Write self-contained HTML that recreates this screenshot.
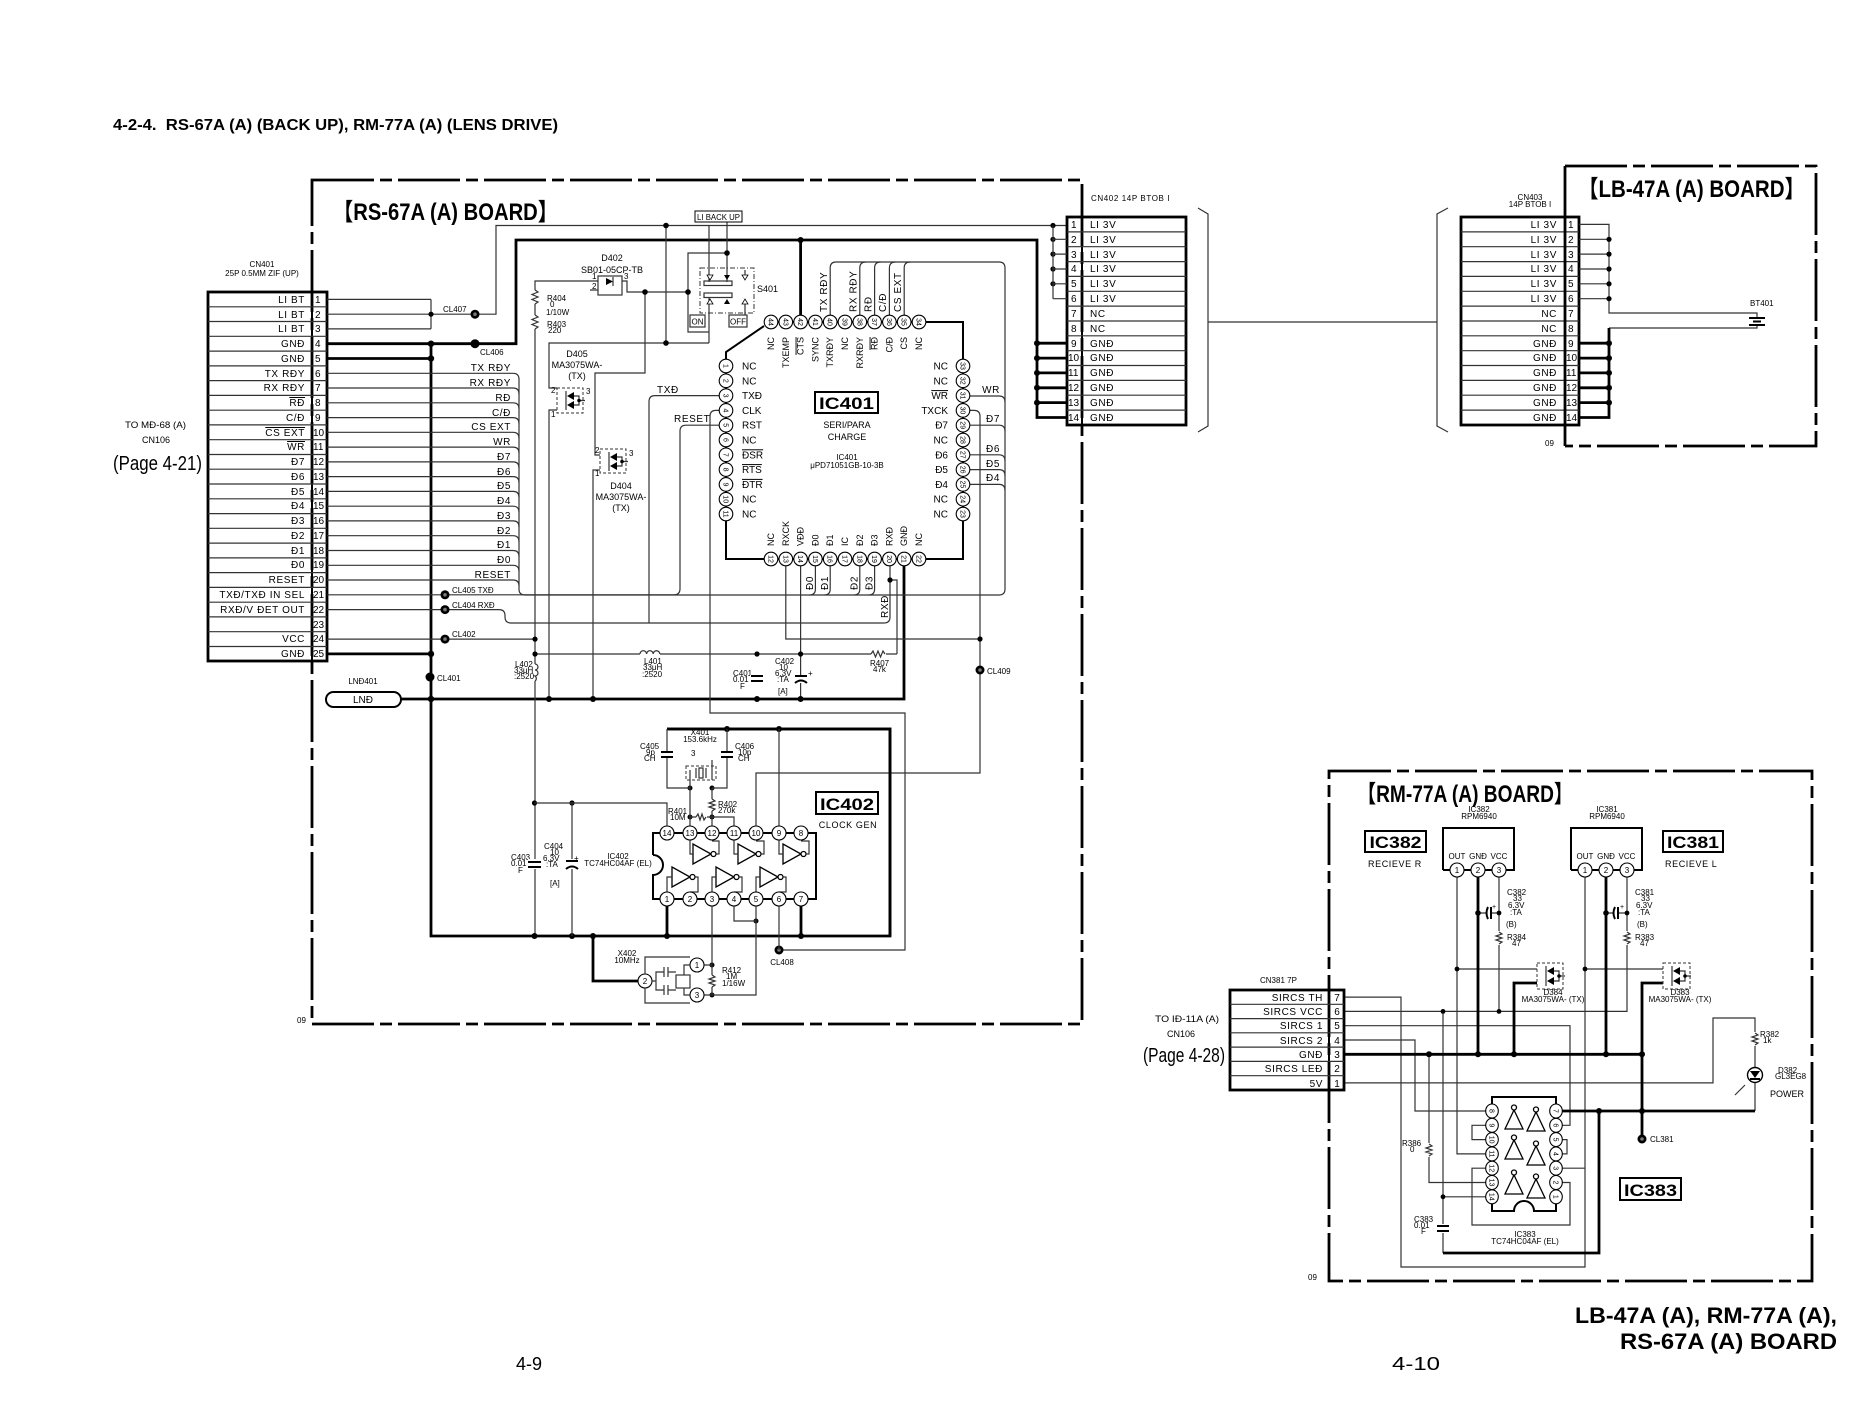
<!DOCTYPE html>
<html><head><meta charset="utf-8"><title>RS-67A / RM-77A / LB-47A schematic</title>
<style>
html,body{margin:0;padding:0;background:#fff;width:1865px;height:1402px;overflow:hidden}
svg{display:block}
.w{stroke:#333;stroke-width:1.2;fill:none}
.k{stroke:#000;stroke-width:2.8;fill:none}
.m{stroke:#000;stroke-width:2;fill:none}
.bd{stroke:#000;stroke-width:2.8;fill:none;stroke-dasharray:62 6 12 6}
text{font-family:"Liberation Sans","Noto Sans CJK JP",sans-serif;fill:#000}
.f7{font-size:7px}.f8{font-size:8px}.f9{font-size:9px}.f10{font-size:10px}
.e{text-anchor:end}.c{text-anchor:middle}
.ov{text-decoration:overline}
.pin{fill:#fff;stroke:#000;stroke-width:1.1}
.ls{letter-spacing:0.6px}
.dsh{stroke:#333;stroke-width:1;fill:none;stroke-dasharray:3 2}
</style></head><body>
<svg width="1865" height="1402" viewBox="0 0 1865 1402" xmlns="http://www.w3.org/2000/svg">
<rect width="1865" height="1402" fill="#fff"/>

<!-- Header -->
<text x="113" y="130" font-size="16" font-weight="bold" textLength="445" lengthAdjust="spacingAndGlyphs" xml:space="preserve">4-2-4.  RS-67A (A) (BACK UP), RM-77A (A) (LENS DRIVE)</text>

<!-- ================= RS-67A BOARD ================= -->
<path class="bd" d="M312,180 H1082 V1024 H312 Z"/>
<text x="333" y="220" font-size="24" font-weight="bold" textLength="225" lengthAdjust="spacingAndGlyphs">【RS-67A (A) BOARD】</text>
<text x="297" y="1023" class="f8">09</text>

<!-- CN401 -->
<text x="262" y="267" class="f8 c">CN401</text>
<text x="262" y="276" class="f8 c">25P 0.5MM ZIF (UP)</text>
<rect x="208" y="292" width="119" height="369" class="k"/>
<line x1="312" y1="292" x2="312" y2="661" class="m"/>
<path class="w" d="M208,306.8H327M208,321.5H327M208,336.3H327M208,351.1H327M208,365.9H327M208,380.6H327M208,395.4H327M208,410.2H327M208,424.9H327M208,439.7H327M208,454.5H327M208,469.2H327M208,484H327M208,498.8H327M208,513.6H327M208,528.3H327M208,543.1H327M208,557.9H327M208,572.6H327M208,587.4H327M208,602.2H327M208,616.9H327M208,631.7H327M208,646.5H327"/>
<g class="f10 ls">
<text x="305" y="303" class="e">LI BT</text>
<text x="305" y="318" class="e">LI BT</text>
<text x="305" y="332" class="e">LI BT</text>
<text x="305" y="347" class="e">GNĐ</text>
<text x="305" y="362" class="e">GNĐ</text>
<text x="305" y="377" class="e">TX RĐY</text>
<text x="305" y="391" class="e">RX RĐY</text>
<text x="305" y="406" class="e ov">RĐ</text>
<text x="305" y="421" class="e">C/Đ</text>
<text x="305" y="436" class="e ov">CS EXT</text>
<text x="305" y="450" class="e ov">WR</text>
<text x="305" y="465" class="e">Đ7</text>
<text x="305" y="480" class="e">Đ6</text>
<text x="305" y="495" class="e">Đ5</text>
<text x="305" y="509" class="e">Đ4</text>
<text x="305" y="524" class="e">Đ3</text>
<text x="305" y="539" class="e">Đ2</text>
<text x="305" y="554" class="e">Đ1</text>
<text x="305" y="568" class="e">Đ0</text>
<text x="305" y="583" class="e">RESET</text>
<text x="305" y="598" class="e">TXĐ/TXĐ IN SEL</text>
<text x="305" y="613" class="e">RXĐ/V ĐET OUT</text>
<text x="305" y="642" class="e">VCC</text>
<text x="305" y="657" class="e">GNĐ</text>
</g>
<g class="f10">
<text x="315" y="303">1</text><text x="315" y="318">2</text><text x="315" y="332">3</text><text x="315" y="347">4</text><text x="315" y="362">5</text><text x="315" y="377">6</text><text x="315" y="391">7</text><text x="315" y="406">8</text><text x="315" y="421">9</text><text x="313" y="436">10</text><text x="313" y="450">11</text><text x="313" y="465">12</text><text x="313" y="480">13</text><text x="313" y="495">14</text><text x="313" y="509">15</text><text x="313" y="524">16</text><text x="313" y="539">17</text><text x="313" y="554">18</text><text x="313" y="568">19</text><text x="313" y="583">20</text><text x="313" y="598">21</text><text x="313" y="613">22</text><text x="313" y="628">23</text><text x="313" y="642">24</text><text x="313" y="657">25</text>
</g>
<text x="125" y="428" class="f9" textLength="61" lengthAdjust="spacingAndGlyphs">TO MĐ-68 (A)</text>
<text x="142" y="443" class="f9">CN106</text>
<text x="113" y="470" font-size="20" textLength="89" lengthAdjust="spacingAndGlyphs">(Page 4-21)</text>

<!-- CN401 wiring -->
<path class="w" d="M327,299.4H431M327,314.2H475M327,328.9H431M431,299.4V328.9M475,314.2H496V225.5H1067"/>
<path class="k" d="M327,343.7H516V240H1037V417.5H1067M327,358.5H431M431,343.7V936H890V729H667M327,653.9H431M1037,343.2H1067M1037,358.1H1067M1037,372.9H1067M1037,387.8H1067M1037,402.6H1067"/>
<path class="k" d="M401,699H904V566M800.6,315V240"/>
<!-- bus lines rows 6-20 -->
<path class="w" d="M327,373.3H513Q519,373.3 519,379.3M327,388H513Q519,388 519,394M327,402.8H513Q519,402.8 519,408.8M327,417.6H513Q519,417.6 519,423.6M327,432.3H513Q519,432.3 519,438.3M327,447.1H513Q519,447.1 519,453.1M327,461.9H513Q519,461.9 519,467.9M327,476.6H513Q519,476.6 519,482.6M327,491.4H513Q519,491.4 519,497.4M327,506.2H513Q519,506.2 519,512.2M327,520.9H513Q519,520.9 519,526.9M327,535.7H513Q519,535.7 519,541.7M327,550.5H513Q519,550.5 519,556.5M327,565.3H513Q519,565.3 519,571.3M327,580H513Q519,580 519,586"/>
<path class="w" d="M519,379V589Q519,595 525,595H999Q1005,595 1005,589V268Q1005,262 999,262H836Q830.2,262 830.2,268V315"/>
<path class="w" d="M859.8,315V268Q859.8,262 865.8,262M874.6,315V268Q874.6,262 880.6,262M889.4,315V268Q889.4,262 895.4,262M904.2,315V268Q904.2,262 910.2,262"/>
<path class="w" d="M970,396H999Q1005,396 1005,402M970,425.2H999Q1005,425.2 1005,431.2M970,454.8H999Q1005,454.8 1005,460.8M970,469.6H999Q1005,469.6 1005,475.6M970,484.4H999Q1005,484.4 1005,490.4"/>
<path class="w" d="M815.4,566V589Q815.4,595 809.4,595M830.2,566V589Q830.2,595 824.2,595M859.8,566V589Q859.8,595 853.8,595M874.6,566V589Q874.6,595 868.6,595"/>
<!-- rows 21,22,24 -->
<path class="w" d="M327,594.8H674Q680,594.8 680,588.8V431.2Q680,425.2 686,425.2H719"/>
<path class="w" d="M327,609.6H499Q505,609.6 505,615.6V617Q505,623 511,623H884Q890,623 890,617V566M890,580H897V654M649,623V401.6Q649,395.6 655,395.6H719"/>
<path class="w" d="M719,410.4H716Q710,410.4 710,416.4V713H905V950H779"/>
<path class="w" d="M970,410.4H974Q980,410.4 980,416.4V773H756V826M785.8,566V639H980M800.6,566V699M327,639.1H535"/>
<path class="w" d="M598,281H535V936M535,654H897M665,343H549V388H557M557,410H549V699M600,455H595V373H645V292M600,470H593V699M622,281H627V292H688M666,225.5V343H709M709,225.5V282M709,298V343M727,222V282M727,253H688V332H709M745,300V315"/>
<!-- small labels rows 21/22/24 -->
<text x="452" y="593" class="f8">CL405 TXĐ</text>
<text x="452" y="608" class="f8">CL404 RXĐ</text>
<text x="452" y="637" class="f8">CL402</text>
<text x="443" y="312" class="f8">CL407</text>
<text x="480" y="355" class="f8">CL406</text>
<text x="437" y="681" class="f8">CL401</text>
<g class="f10 ls">
<text x="511" y="371" class="e">TX RĐY</text>
<text x="511" y="386" class="e">RX RĐY</text>
<text x="511" y="401" class="e">RĐ</text>
<text x="511" y="416" class="e">C/Đ</text>
<text x="511" y="430" class="e">CS EXT</text>
<text x="511" y="445" class="e">WR</text>
<text x="511" y="460" class="e">Đ7</text>
<text x="511" y="475" class="e">Đ6</text>
<text x="511" y="489" class="e">Đ5</text>
<text x="511" y="504" class="e">Đ4</text>
<text x="511" y="519" class="e">Đ3</text>
<text x="511" y="534" class="e">Đ2</text>
<text x="511" y="548" class="e">Đ1</text>
<text x="511" y="563" class="e">Đ0</text>
<text x="511" y="578" class="e">RESET</text>
<text x="657" y="393">TXĐ</text>
<text x="674" y="422">RESET</text>
<text x="1000" y="393" class="e">WR</text>
<text x="1000" y="422" class="e">Đ7</text>
<text x="1000" y="452" class="e">Đ6</text>
<text x="1000" y="467" class="e">Đ5</text>
<text x="1000" y="481" class="e">Đ4</text>
</g>
<g class="f10 ls">
<text transform="translate(827,312) rotate(-90)">TX RĐY</text>
<text transform="translate(856.6,312) rotate(-90)">RX RĐY</text>
<text transform="translate(871.4,312) rotate(-90)">RĐ</text>
<text transform="translate(886.2,312) rotate(-90)">C/Đ</text>
<text transform="translate(901,312) rotate(-90)">CS EXT</text>
<text transform="translate(813,590) rotate(-90)">Đ0</text>
<text transform="translate(828,590) rotate(-90)">Đ1</text>
<text transform="translate(857.6,590) rotate(-90)">Đ2</text>
<text transform="translate(872.4,590) rotate(-90)">Đ3</text>
<text transform="translate(888,618) rotate(-90)">RXĐ</text>
</g>

<!-- LND -->
<rect x="326" y="692" width="75" height="15" rx="7.5" class="m"/>
<text x="363" y="703" class="f10 c">LNĐ</text>
<text x="363" y="684" class="f8 c">LNĐ401</text>

<!-- CL test points -->
<g>
<circle cx="475" cy="314.2" r="4.5"/><circle cx="475" cy="314.2" r="1.8" fill="#777"/>
<circle cx="475" cy="343.7" r="4.5"/>
<circle cx="445" cy="594.8" r="4.5"/><circle cx="445" cy="594.8" r="1.8" fill="#777"/>
<circle cx="445" cy="609.6" r="4.5"/><circle cx="445" cy="609.6" r="1.8" fill="#777"/>
<circle cx="445" cy="639.1" r="4.5"/><circle cx="445" cy="639.1" r="1.8" fill="#777"/>
<circle cx="430" cy="677" r="4.5"/>
<circle cx="980" cy="670" r="4.5"/><circle cx="980" cy="670" r="1.8" fill="#777"/>
<circle cx="779" cy="950" r="4.5"/><circle cx="779" cy="950" r="1.8" fill="#777"/>
</g>
<!-- junction dots -->
<g>
<circle cx="431" cy="314.2" r="2.6"/><circle cx="431" cy="343.7" r="3.2"/><circle cx="431" cy="358.5" r="3.2"/><circle cx="431" cy="653.9" r="3.2"/><circle cx="431" cy="699" r="3.2"/>
<circle cx="535" cy="639.1" r="2.6"/><circle cx="535" cy="654" r="2.6"/><circle cx="549" cy="699" r="3"/><circle cx="593" cy="699" r="3"/>
<circle cx="757" cy="654" r="2.6"/><circle cx="800.6" cy="654" r="2.6"/><circle cx="757" cy="699" r="3"/><circle cx="800.6" cy="699" r="3"/>
<circle cx="890" cy="580" r="2.6"/><circle cx="980" cy="639" r="2.6"/>
<circle cx="666" cy="225.5" r="2.8"/><circle cx="666" cy="343" r="2.8"/><circle cx="800.6" cy="240" r="3"/>
<circle cx="645" cy="292" r="2.8"/><circle cx="688" cy="292" r="2.8"/><circle cx="727" cy="253" r="2.8"/>
<circle cx="1053" cy="225.5" r="2.6"/><circle cx="1053" cy="239.3" r="2.6"/><circle cx="1053" cy="254.1" r="2.6"/><circle cx="1053" cy="269" r="2.6"/><circle cx="1053" cy="283.8" r="2.6"/>
<circle cx="1037" cy="343.2" r="3"/><circle cx="1037" cy="358.1" r="3"/><circle cx="1037" cy="372.9" r="3"/><circle cx="1037" cy="387.8" r="3"/><circle cx="1037" cy="402.6" r="3"/>
<circle cx="534.5" cy="803" r="2.6"/><circle cx="572" cy="803" r="2.6"/><circle cx="534.5" cy="936" r="3"/><circle cx="572" cy="936" r="3"/><circle cx="593" cy="936" r="3"/><circle cx="667" cy="936" r="3"/><circle cx="801" cy="936" r="3"/>
<circle cx="727" cy="729" r="3"/><circle cx="779" cy="729" r="3"/>
<circle cx="690" cy="788" r="2.5"/><circle cx="712" cy="788" r="2.5"/><circle cx="690" cy="817" r="2.5"/><circle cx="712" cy="817" r="2.5"/>
<circle cx="712" cy="965" r="2.5"/><circle cx="712" cy="995" r="2.5"/><circle cx="756" cy="921" r="2.5"/>
</g>

<!-- R404 / R403 / L402 / L401 / R407 -->
<rect x="530" y="290" width="10" height="14" fill="#fff"/><rect x="530" y="315" width="10" height="14" fill="#fff"/>
<path class="w" d="M535,290l3,2l-6,2.5l6,2.5l-6,2.5l6,2.5l-3,2M535,315l3,2l-6,2.5l6,2.5l-6,2.5l6,2.5l-3,2"/>
<rect x="530" y="664" width="10" height="17" fill="#fff"/>
<path class="w" d="M535,664a3,3 0 0 1 0,6a3,3 0 0 1 0,6a3,3 0 0 1 0,5"/>
<rect x="640" y="649" width="20" height="8" fill="#fff"/>
<path class="w" d="M640,654a3.3,3.3 0 0 1 6.6,0a3.3,3.3 0 0 1 6.6,0a3.3,3.3 0 0 1 6.6,0"/>
<rect x="871" y="649" width="15" height="9" fill="#fff"/>
<path class="w" d="M871,654l2,-3l2.5,6l2.5,-6l2.5,6l2.5,-6l2,3"/>
<g class="f8">
<text x="547" y="301">R404</text><text x="550" y="307">0</text><text x="546" y="315">1/10W</text>
<text x="547" y="327">R403</text><text x="548" y="333">220</text>
<text x="515" y="667">L402</text><text x="514" y="673">33μH</text><text x="514" y="679">:2520</text>
<text x="644" y="664">L401</text><text x="643" y="670">33μH</text><text x="642" y="677">:2520</text>
<text x="870" y="666">R407</text><text x="873" y="672">47k</text>
<text x="987" y="674">CL409</text>
<text x="733" y="676">C401</text><text x="733" y="682">0.01</text><text x="740" y="689">F</text>
<text x="775" y="664">C402</text><text x="779" y="670">10</text><text x="775" y="676">6.3V</text><text x="777" y="682">:TA</text><text x="778" y="694">[A]</text>
</g>
<!-- C401 C402 -->
<rect x="750" y="675" width="14" height="8" fill="#fff"/><rect x="794" y="675" width="14" height="8" fill="#fff"/>
<path class="m" d="M751,676H763M751,681H763M795,676H807"/>
<path class="m" d="M795,683Q801,678 807,683"/>
<text x="808" y="676" class="f8">+</text>

<!-- D402 -->
<rect x="598" y="276" width="24" height="19" class="w"/>
<polygon points="606,278 606,285 613,281.5"/>
<path class="w" d="M613,277V286M598,290H590"/>
<text x="612" y="261" class="f9 c">D402</text>
<text x="612" y="273" class="f9 c">SB01-05CP-TB</text>
<text x="592" y="279" class="f8">1</text><text x="592" y="289" class="f8">2</text><text x="624" y="279" class="f8">3</text>

<!-- D405 / D404 -->
<rect x="557" y="388" width="26" height="25" class="dsh"/>
<polygon points="574,392 574,400 567,396"/><polygon points="574,401 574,409 567,405"/>
<path class="w" d="M566,391V401M566,400V410M574,396H579V405H574M579,400.5H585"/><circle cx="579" cy="400.5" r="1.8"/>
<text x="551" y="393" class="f8">2</text><text x="551" y="417" class="f8">1</text><text x="586" y="394" class="f8">3</text>
<text x="577" y="357" class="f9 c">D405</text><text x="577" y="368" class="f9 c">MA3075WA-</text><text x="577" y="379" class="f9 c">(TX)</text>
<rect x="600" y="449" width="26" height="24" class="dsh"/>
<polygon points="617,453 617,461 610,457"/><polygon points="617,462 617,470 610,466"/>
<path class="w" d="M609,452V462M609,461V471M617,457H622V466H617M622,461.5H628"/><circle cx="622" cy="461.5" r="1.8"/>
<text x="595" y="453" class="f8">2</text><text x="595" y="476" class="f8">1</text><text x="629" y="456" class="f8">3</text>
<text x="621" y="489" class="f9 c">D404</text><text x="621" y="500" class="f9 c">MA3075WA-</text><text x="621" y="511" class="f9 c">(TX)</text>

<!-- S401 -->
<rect x="695" y="211" width="47" height="11" fill="#fff" stroke="#000" stroke-width="1"/>
<text x="718.5" y="220" class="f8 c" textLength="43" lengthAdjust="spacingAndGlyphs">LI BACK UP</text>
<rect x="700" y="268" width="54" height="45" fill="none" stroke="#333" stroke-width="1" stroke-dasharray="5 2 1 2"/>
<rect x="704" y="281" width="28" height="4.5" class="w" fill="#fff"/>
<rect x="704" y="293" width="28" height="4.5" class="w" fill="#fff"/>
<polygon points="707,275 713,275 710,280" fill="#fff" stroke="#000" stroke-width="0.8"/>
<polygon points="724,275 730,275 727,280"/>
<polygon points="742,275 748,275 745,280" fill="#fff" stroke="#000" stroke-width="0.8"/>
<polygon points="707,304 713,304 710,299" fill="#fff" stroke="#000" stroke-width="0.8"/>
<polygon points="724,304 730,304 727,299"/>
<polygon points="742,304 748,304 745,299" fill="#fff" stroke="#000" stroke-width="0.8"/>
<path class="w" d="M745,270V275"/>
<text x="757" y="292" class="f9">S401</text>
<rect x="690" y="315" width="15" height="12" class="w"/><text x="697.5" y="324.5" class="f8 c">ON</text>
<rect x="729" y="315" width="18" height="12" class="w"/><text x="738" y="324.5" class="f8 c">OFF</text>

<!-- IC401 -->
<path class="m" d="M764,326L726,352V559H963V322H778"/>
<g class="pin">
<circle cx="771" cy="322" r="6.8"/><circle cx="785.8" cy="322" r="6.8"/><circle cx="800.6" cy="322" r="6.8"/><circle cx="815.4" cy="322" r="6.8"/><circle cx="830.2" cy="322" r="6.8"/><circle cx="845" cy="322" r="6.8"/><circle cx="859.8" cy="322" r="6.8"/><circle cx="874.6" cy="322" r="6.8"/><circle cx="889.4" cy="322" r="6.8"/><circle cx="904.2" cy="322" r="6.8"/><circle cx="919" cy="322" r="6.8"/>
<circle cx="771" cy="559" r="6.8"/><circle cx="785.8" cy="559" r="6.8"/><circle cx="800.6" cy="559" r="6.8"/><circle cx="815.4" cy="559" r="6.8"/><circle cx="830.2" cy="559" r="6.8"/><circle cx="845" cy="559" r="6.8"/><circle cx="859.8" cy="559" r="6.8"/><circle cx="874.6" cy="559" r="6.8"/><circle cx="889.4" cy="559" r="6.8"/><circle cx="904.2" cy="559" r="6.8"/><circle cx="919" cy="559" r="6.8"/>
<circle cx="726" cy="366" r="6.8"/><circle cx="726" cy="380.8" r="6.8"/><circle cx="726" cy="395.6" r="6.8"/><circle cx="726" cy="410.4" r="6.8"/><circle cx="726" cy="425.2" r="6.8"/><circle cx="726" cy="440" r="6.8"/><circle cx="726" cy="454.8" r="6.8"/><circle cx="726" cy="469.6" r="6.8"/><circle cx="726" cy="484.4" r="6.8"/><circle cx="726" cy="499.2" r="6.8"/><circle cx="726" cy="514" r="6.8"/>
<circle cx="963" cy="366" r="6.8"/><circle cx="963" cy="380.8" r="6.8"/><circle cx="963" cy="395.6" r="6.8"/><circle cx="963" cy="410.4" r="6.8"/><circle cx="963" cy="425.2" r="6.8"/><circle cx="963" cy="440" r="6.8"/><circle cx="963" cy="454.8" r="6.8"/><circle cx="963" cy="469.6" r="6.8"/><circle cx="963" cy="484.4" r="6.8"/><circle cx="963" cy="499.2" r="6.8"/><circle cx="963" cy="514" r="6.8"/>
</g>
<g class="f7 c">
<text transform="translate(771,322) rotate(90)" y="2.5">44</text><text transform="translate(785.8,322) rotate(90)" y="2.5">43</text><text transform="translate(800.6,322) rotate(90)" y="2.5">42</text><text transform="translate(815.4,322) rotate(90)" y="2.5">41</text><text transform="translate(830.2,322) rotate(90)" y="2.5">40</text><text transform="translate(845,322) rotate(90)" y="2.5">39</text><text transform="translate(859.8,322) rotate(90)" y="2.5">38</text><text transform="translate(874.6,322) rotate(90)" y="2.5">37</text><text transform="translate(889.4,322) rotate(90)" y="2.5">36</text><text transform="translate(904.2,322) rotate(90)" y="2.5">35</text><text transform="translate(919,322) rotate(90)" y="2.5">34</text>
<text transform="translate(771,559) rotate(90)" y="2.5">12</text><text transform="translate(785.8,559) rotate(90)" y="2.5">13</text><text transform="translate(800.6,559) rotate(90)" y="2.5">14</text><text transform="translate(815.4,559) rotate(90)" y="2.5">15</text><text transform="translate(830.2,559) rotate(90)" y="2.5">16</text><text transform="translate(845,559) rotate(90)" y="2.5">17</text><text transform="translate(859.8,559) rotate(90)" y="2.5">18</text><text transform="translate(874.6,559) rotate(90)" y="2.5">19</text><text transform="translate(889.4,559) rotate(90)" y="2.5">20</text><text transform="translate(904.2,559) rotate(90)" y="2.5">21</text><text transform="translate(919,559) rotate(90)" y="2.5">22</text>
<text transform="translate(726,366) rotate(90)" y="2.5">1</text><text transform="translate(726,380.8) rotate(90)" y="2.5">2</text><text transform="translate(726,395.6) rotate(90)" y="2.5">3</text><text transform="translate(726,410.4) rotate(90)" y="2.5">4</text><text transform="translate(726,425.2) rotate(90)" y="2.5">5</text><text transform="translate(726,440) rotate(90)" y="2.5">6</text><text transform="translate(726,454.8) rotate(90)" y="2.5">7</text><text transform="translate(726,469.6) rotate(90)" y="2.5">8</text><text transform="translate(726,484.4) rotate(90)" y="2.5">9</text><text transform="translate(726,499.2) rotate(90)" y="2.5">10</text><text transform="translate(726,514) rotate(90)" y="2.5">11</text>
<text transform="translate(963,366) rotate(90)" y="2.5">33</text><text transform="translate(963,380.8) rotate(90)" y="2.5">32</text><text transform="translate(963,395.6) rotate(90)" y="2.5">31</text><text transform="translate(963,410.4) rotate(90)" y="2.5">30</text><text transform="translate(963,425.2) rotate(90)" y="2.5">29</text><text transform="translate(963,440) rotate(90)" y="2.5">28</text><text transform="translate(963,454.8) rotate(90)" y="2.5">27</text><text transform="translate(963,469.6) rotate(90)" y="2.5">26</text><text transform="translate(963,484.4) rotate(90)" y="2.5">25</text><text transform="translate(963,499.2) rotate(90)" y="2.5">24</text><text transform="translate(963,514) rotate(90)" y="2.5">23</text>
</g>
<g class="f9">
<text transform="translate(771,337) rotate(-90)" y="3" class="e">NC</text>
<text transform="translate(785.8,337) rotate(-90)" y="3" class="e">TXEMP</text>
<text transform="translate(800.6,337) rotate(-90)" y="3" class="e ov">CTS</text>
<text transform="translate(815.4,337) rotate(-90)" y="3" class="e">SYNC</text>
<text transform="translate(830.2,337) rotate(-90)" y="3" class="e">TXRĐY</text>
<text transform="translate(845,337) rotate(-90)" y="3" class="e">NC</text>
<text transform="translate(859.8,337) rotate(-90)" y="3" class="e">RXRĐY</text>
<text transform="translate(874.6,337) rotate(-90)" y="3" class="e ov">RĐ</text>
<text transform="translate(889.4,337) rotate(-90)" y="3" class="e">C/Đ</text>
<text transform="translate(904.2,337) rotate(-90)" y="3" class="e">CS</text>
<text transform="translate(919,337) rotate(-90)" y="3" class="e">NC</text>
<text transform="translate(771,546) rotate(-90)" y="3">NC</text>
<text transform="translate(785.8,546) rotate(-90)" y="3">RXCK</text>
<text transform="translate(800.6,546) rotate(-90)" y="3">VĐĐ</text>
<text transform="translate(815.4,546) rotate(-90)" y="3">Đ0</text>
<text transform="translate(830.2,546) rotate(-90)" y="3">Đ1</text>
<text transform="translate(845,546) rotate(-90)" y="3">IC</text>
<text transform="translate(859.8,546) rotate(-90)" y="3">Đ2</text>
<text transform="translate(874.6,546) rotate(-90)" y="3">Đ3</text>
<text transform="translate(889.4,546) rotate(-90)" y="3">RXĐ</text>
<text transform="translate(904.2,546) rotate(-90)" y="3">GNĐ</text>
<text transform="translate(919,546) rotate(-90)" y="3">NC</text>
</g>
<g class="f10">
<text x="742" y="369.5">NC</text><text x="742" y="384.3">NC</text><text x="742" y="399.1">TXĐ</text><text x="742" y="413.9">CLK</text><text x="742" y="428.7">RST</text><text x="742" y="443.5">NC</text><text x="742" y="458.3" class="ov">ĐSR</text><text x="742" y="473.1" class="ov">RTS</text><text x="742" y="487.9" class="ov">ĐTR</text><text x="742" y="502.7">NC</text><text x="742" y="517.5">NC</text>
<text x="948" y="369.5" class="e">NC</text><text x="948" y="384.3" class="e">NC</text><text x="948" y="399.1" class="e ov">WR</text><text x="948" y="413.9" class="e">TXCK</text><text x="948" y="428.7" class="e">Đ7</text><text x="948" y="443.5" class="e">NC</text><text x="948" y="458.3" class="e">Đ6</text><text x="948" y="473.1" class="e">Đ5</text><text x="948" y="487.9" class="e">Đ4</text><text x="948" y="502.7" class="e">NC</text><text x="948" y="517.5" class="e">NC</text>
</g>
<rect x="815" y="392" width="63" height="21" class="m"/>
<text x="846.5" y="409" font-size="17" font-weight="bold" class="c" textLength="55" lengthAdjust="spacingAndGlyphs">IC401</text>
<text x="847" y="428" class="f9 c">SERI/PARA</text>
<text x="847" y="440" class="f9 c">CHARGE</text>
<text x="847" y="460" class="f8 c">IC401</text>
<text x="847" y="468" class="f8 c">μPD71051GB-10-3B</text>

<!-- IC402 section -->
<path class="k" d="M667,729H890V936"/>
<path class="w" d="M667,729V788H690M727,729V788H712M779,729V826M690,788V826M712,788V826M690,817H712M712,817H734V826"/>
<rect x="661" y="751" width="12" height="7" fill="#fff"/><rect x="721" y="751" width="12" height="7" fill="#fff"/>
<path class="m" d="M661,752H673M661,757H673M721,752H733M721,757H733"/>
<rect x="686" y="766" width="30" height="14" class="dsh" fill="#fff"/>
<path class="w" d="M696,768V778M706,768V778M699,768H703V778H699Z M690,780V788M712,760V780M690,770V780"/>
<rect x="696" y="813" width="11" height="8" fill="#fff"/>
<path class="w" d="M696,817l2,-3l2,6l2,-6l2,6l2,-3"/>
<rect x="708" y="799" width="8" height="12" fill="#fff"/>
<path class="w" d="M712,799l3,2l-6,2l6,2l-6,2l6,2l-3,2"/>
<g class="f8">
<text x="700" y="735" class="c">X401</text><text x="700" y="742" class="c">153.6kHz</text>
<text x="691" y="756">3</text>
<text x="640" y="749">C405</text><text x="646" y="755">9p</text><text x="644" y="761">CH</text>
<text x="735" y="749">C406</text><text x="738" y="755">10p</text><text x="738" y="761">CH</text>
<text x="668" y="814">R401</text><text x="670" y="820">10M</text>
<text x="718" y="807">R402</text><text x="718" y="813">270k</text>
</g>
<!-- IC402 body -->
<path class="m" d="M653,855V833H816V899H653V875A10,10 0 0 0 653,855"/>
<g fill="#fff" stroke="#000" stroke-width="1.3">
<polygon points="693,844 693,864 711,854"/><circle cx="713.5" cy="854" r="2.5"/>
<polygon points="738,844 738,864 756,854"/><circle cx="758.5" cy="854" r="2.5"/>
<polygon points="783,844 783,864 801,854"/><circle cx="803.5" cy="854" r="2.5"/>
<polygon points="672,867 672,887 690,877"/><circle cx="692.5" cy="877" r="2.5"/>
<polygon points="716,867 716,887 734,877"/><circle cx="736.5" cy="877" r="2.5"/>
<polygon points="760,867 760,887 778,877"/><circle cx="780.5" cy="877" r="2.5"/>
</g>
<path class="w" d="M690,840V854H693M716,854H719V841H712M734,840V854H738M761,854H764V841H756M779,840V854H783M806,854H809V841H801M667,892V877H672M695,877H698V892H690M712,892V877H716M739,877H742V892H734M756,892V877H760M783,877H786V892H779"/>
<path class="w" d="M712,906V965M703,965H712V995H703M712,995H756V906M756,921H734V906M779,906V950M667,826V803H534.5M572,803V936"/>
<path class="k" d="M667,906V936M801,906V936M593,936V981H638"/>
<g class="pin">
<circle cx="667" cy="833" r="7"/><circle cx="690" cy="833" r="7"/><circle cx="712" cy="833" r="7"/><circle cx="734" cy="833" r="7"/><circle cx="756" cy="833" r="7"/><circle cx="779" cy="833" r="7"/><circle cx="801" cy="833" r="7"/>
<circle cx="667" cy="899" r="7"/><circle cx="690" cy="899" r="7"/><circle cx="712" cy="899" r="7"/><circle cx="734" cy="899" r="7"/><circle cx="756" cy="899" r="7"/><circle cx="779" cy="899" r="7"/><circle cx="801" cy="899" r="7"/>
<circle cx="697" cy="965" r="7"/><circle cx="645" cy="981" r="7"/><circle cx="697" cy="995" r="7"/>
</g>
<g class="f8 c">
<text x="667" y="836">14</text><text x="690" y="836">13</text><text x="712" y="836">12</text><text x="734" y="836">11</text><text x="756" y="836">10</text><text x="779" y="836">9</text><text x="801" y="836">8</text>
<text x="667" y="902">1</text><text x="690" y="902">2</text><text x="712" y="902">3</text><text x="734" y="902">4</text><text x="756" y="902">5</text><text x="779" y="902">6</text><text x="801" y="902">7</text>
<text x="697" y="968">1</text><text x="645" y="984">2</text><text x="697" y="998">3</text>
</g>
<!-- X402 -->
<path class="w" d="M645,974V957H690M645,988V1003H690M652,981H656V972H664M668,972H676M656,981V990H664M668,990H676M664,967V977M668,967V977M664,985V995M668,985V995M690,965H684V975M690,995H684V988"/>
<rect x="676" y="975" width="14" height="13" class="w"/>
<rect x="708" y="975" width="8" height="12" fill="#fff"/>
<path class="w" d="M712,975l3,2l-6,2l6,2l-6,2l6,2l-3,2"/>
<g class="f8">
<text x="627" y="956" class="c">X402</text><text x="627" y="963" class="c">10MHz</text>
<text x="722" y="973">R412</text><text x="726" y="979">1M</text><text x="722" y="986">1/16W</text>
<text x="782" y="965" class="c">CL408</text>
<text x="511" y="860">C403</text><text x="511" y="866">0.01</text><text x="518" y="873">F</text>
<text x="544" y="849">C404</text><text x="550" y="855">10</text><text x="543" y="861">6.3V</text><text x="546" y="867">:TA</text><text x="550" y="886">[A]</text>
<text x="618" y="859" class="c">IC402</text><text x="618" y="866" class="c">TC74HC04AF (EL)</text>
</g>
<rect x="528" y="859" width="14" height="10" fill="#fff"/><rect x="566" y="859" width="14" height="10" fill="#fff"/>
<path class="m" d="M528,862H541M528,867H541M566,861H578"/>
<path class="m" d="M566,869Q572,864 578,869"/>
<text x="574" y="861" class="f8">+</text>
<rect x="816" y="792" width="62" height="22" class="m"/>
<text x="847" y="810" font-size="17" font-weight="bold" class="c" textLength="54" lengthAdjust="spacingAndGlyphs">IC402</text>
<text x="848" y="828" class="f9 c ls">CLOCK GEN</text>

<!-- CN402 -->
<text x="1091" y="201" class="f8 ls">CN402 14P BTOB I</text>
<rect x="1067" y="217" width="119" height="208" class="k"/>
<line x1="1082" y1="217" x2="1082" y2="425" class="m"/>
<path class="w" d="M1067,231.9H1186M1067,246.7H1186M1067,261.6H1186M1067,276.4H1186M1067,291.3H1186M1067,306.1H1186M1067,321H1186M1067,335.8H1186M1067,350.7H1186M1067,365.5H1186M1067,380.4H1186M1067,395.2H1186M1067,410.1H1186"/>
<path class="w" d="M1053,225.5V298.7M1053,239.3H1067M1053,254.1H1067M1053,269H1067M1053,283.8H1067M1053,298.7H1067"/>
<g class="f10 ls">
<text x="1090" y="228">LI 3V</text><text x="1090" y="243">LI 3V</text><text x="1090" y="258">LI 3V</text><text x="1090" y="272">LI 3V</text><text x="1090" y="287">LI 3V</text><text x="1090" y="302">LI 3V</text><text x="1090" y="317">NC</text><text x="1090" y="332">NC</text><text x="1090" y="347">GNĐ</text><text x="1090" y="361">GNĐ</text><text x="1090" y="376">GNĐ</text><text x="1090" y="391">GNĐ</text><text x="1090" y="406">GNĐ</text><text x="1090" y="421">GNĐ</text>
</g>
<g class="f10">
<text x="1071" y="228">1</text><text x="1071" y="243">2</text><text x="1071" y="258">3</text><text x="1071" y="272">4</text><text x="1071" y="287">5</text><text x="1071" y="302">6</text><text x="1071" y="317">7</text><text x="1071" y="332">8</text><text x="1071" y="347">9</text><text x="1068" y="361">10</text><text x="1068" y="376">11</text><text x="1068" y="391">12</text><text x="1068" y="406">13</text><text x="1068" y="421">14</text>
</g>
<path class="w" d="M1198,208L1208,214V426L1198,432M1448,208L1437,214V426L1448,432M1208,322H1437"/>

<!-- CN403 / LB-47A -->
<text x="1530" y="200" class="f8 c">CN403</text>
<text x="1530" y="207" class="f8 c">14P BTOB I</text>
<rect x="1461" y="217" width="118" height="208" class="k"/>
<path class="w" d="M1461,231.9H1579M1461,246.7H1579M1461,261.6H1579M1461,276.4H1579M1461,291.3H1579M1461,306.1H1579M1461,321H1579M1461,335.8H1579M1461,350.7H1579M1461,365.5H1579M1461,380.4H1579M1461,395.2H1579M1461,410.1H1579"/>
<g class="f10 ls">
<text x="1557" y="228" class="e">LI 3V</text><text x="1557" y="243" class="e">LI 3V</text><text x="1557" y="258" class="e">LI 3V</text><text x="1557" y="272" class="e">LI 3V</text><text x="1557" y="287" class="e">LI 3V</text><text x="1557" y="302" class="e">LI 3V</text><text x="1557" y="317" class="e">NC</text><text x="1557" y="332" class="e">NC</text><text x="1557" y="347" class="e">GNĐ</text><text x="1557" y="361" class="e">GNĐ</text><text x="1557" y="376" class="e">GNĐ</text><text x="1557" y="391" class="e">GNĐ</text><text x="1557" y="406" class="e">GNĐ</text><text x="1557" y="421" class="e">GNĐ</text>
</g>
<g class="f10">
<text x="1568" y="228">1</text><text x="1568" y="243">2</text><text x="1568" y="258">3</text><text x="1568" y="272">4</text><text x="1568" y="287">5</text><text x="1568" y="302">6</text><text x="1568" y="317">7</text><text x="1568" y="332">8</text><text x="1568" y="347">9</text><text x="1566" y="361">10</text><text x="1566" y="376">11</text><text x="1566" y="391">12</text><text x="1566" y="406">13</text><text x="1566" y="421">14</text>
</g>
<text x="1545" y="446" class="f8">09</text>
<path class="bd" d="M1565,166H1816V446H1565"/>
<line x1="1565" y1="166" x2="1565" y2="446" class="k"/>
<text x="1578" y="197" font-size="24" font-weight="bold" textLength="227" lengthAdjust="spacingAndGlyphs">【LB-47A (A) BOARD】</text>
<path class="w" d="M1579,224.4H1609V313H1757V317M1579,239.3H1609M1579,254.1H1609M1579,269H1609M1579,283.8H1609M1579,298.7H1609M1757,325V328H1609"/>
<path class="m" d="M1749,318H1765M1753,321.5H1761M1749,325H1765"/>
<path class="k" d="M1609,328V417.5H1579M1579,343.2H1609M1579,358.1H1609M1579,372.9H1609M1579,387.8H1609M1579,402.6H1609"/>
<g>
<circle cx="1609" cy="239.3" r="2.6"/><circle cx="1609" cy="254.1" r="2.6"/><circle cx="1609" cy="269" r="2.6"/><circle cx="1609" cy="283.8" r="2.6"/><circle cx="1609" cy="298.7" r="2.6"/>
<circle cx="1609" cy="343.2" r="3"/><circle cx="1609" cy="358.1" r="3"/><circle cx="1609" cy="372.9" r="3"/><circle cx="1609" cy="387.8" r="3"/><circle cx="1609" cy="402.6" r="3"/>
</g>
<text x="1750" y="306" class="f8">BT401</text>

<!-- ================= RM-77A BOARD ================= -->
<path class="bd" d="M1329,771H1812V1281H1329Z"/>
<text x="1357" y="802" font-size="24" font-weight="bold" textLength="216" lengthAdjust="spacingAndGlyphs">【RM-77A (A) BOARD】</text>
<text x="1308" y="1280" class="f8">09</text>

<rect x="1365" y="831" width="61" height="21" class="m"/>
<text x="1395.5" y="848" font-size="17" font-weight="bold" class="c" textLength="52" lengthAdjust="spacingAndGlyphs">IC382</text>
<text x="1368" y="867" class="f9 ls">RECIEVE R</text>
<rect x="1663" y="831" width="60" height="21" class="m"/>
<text x="1693" y="848" font-size="17" font-weight="bold" class="c" textLength="52" lengthAdjust="spacingAndGlyphs">IC381</text>
<text x="1665" y="867" class="f9 ls">RECIEVE L</text>

<path class="m" d="M1443,870V828H1514V870H1443M1571,870V828H1642V870H1571"/>
<text x="1479" y="812" class="f8 c">IC382</text><text x="1479" y="819" class="f8 c">RPM6940</text>
<text x="1607" y="812" class="f8 c">IC381</text><text x="1607" y="819" class="f8 c">RPM6940</text>
<g class="f8 c">
<text x="1457" y="859">OUT</text><text x="1478" y="859">GNĐ</text><text x="1499" y="859">VCC</text>
<text x="1585" y="859">OUT</text><text x="1606" y="859">GNĐ</text><text x="1627" y="859">VCC</text>
</g>

<!-- RM wiring -->
<path class="w" d="M1344,997.1H1401V1267H1585V870M1585,969H1663M1344,1011.4H1627V870M1499,870V1011.4M1457,870V1153.9H1486M1457,969H1537M1344,1025.7H1570V1125.3H1562M1344,1040H1415V1111H1486M1429,1054.3V1182.5H1486M1443,1011.4V1253M1443,1196.8H1486M1344,1082.9H1713V1018H1755V1068M1755,1082V1111M1562,1168.2H1585M1486,1125.3H1472V1139.6H1486M1486,1168.2H1472V1225H1570V1182.5H1562M1562,1139.6H1567V1153.9H1562M1478,913H1486M1491,913H1499M1606,913H1614M1619,913H1627"/>
<path class="k" d="M1478,870V1054.3M1606,870V1054.3M1344,1054.3H1642M1537,983H1514V1054.3M1663,983H1642V1139M1562,1111H1755M1599,1111V1253H1443"/>
<!-- C382/C381 plates -->
<path class="m" d="M1491,907V919M1618,907V919"/>
<path class="m" d="M1488,907Q1485,913 1488,919M1615,907Q1612,913 1615,919"/>
<text x="1492" y="909" class="f7">+</text><text x="1620" y="909" class="f7">+</text>
<!-- resistors RM -->
<rect x="1495" y="931" width="8" height="14" fill="#fff"/><rect x="1623" y="931" width="8" height="14" fill="#fff"/><rect x="1425" y="1143" width="8" height="14" fill="#fff"/><rect x="1751" y="1032" width="8" height="14" fill="#fff"/>
<path class="w" d="M1499,932l3,2l-6,2l6,2l-6,2l6,2l-3,2M1627,932l3,2l-6,2l6,2l-6,2l6,2l-3,2M1429,1144l3,2l-6,2l6,2l-6,2l6,2l-3,2M1755,1033l3,2l-6,2l6,2l-6,2l6,2l-3,2"/>
<!-- C383 -->
<rect x="1437" y="1224" width="13" height="9" fill="#fff"/>
<path class="m" d="M1437,1226H1449M1437,1231H1449"/>
<!-- D384 / D383 -->
<rect x="1537" y="963" width="26" height="26" class="dsh"/>
<polygon points="1554,967 1554,975 1547,971"/><polygon points="1554,977 1554,985 1547,981"/>
<path class="w" d="M1546,966V976M1546,976V986M1554,971H1559V981H1554M1559,976H1565"/><circle cx="1559" cy="976" r="1.8"/>
<rect x="1663" y="963" width="27" height="26" class="dsh"/>
<polygon points="1680,967 1680,975 1673,971"/><polygon points="1680,977 1680,985 1673,981"/>
<path class="w" d="M1672,966V976M1672,976V986M1680,971H1685V981H1680M1685,976H1691"/><circle cx="1685" cy="976" r="1.8"/>
<!-- LED -->
<circle cx="1755" cy="1075" r="7.5" fill="#fff" stroke="#000" stroke-width="1.4"/>
<polygon points="1750,1071 1760,1071 1755,1078"/>
<path class="m" d="M1750,1079H1760"/>
<path class="w" d="M1745,1085L1739,1091M1741,1089L1735,1095"/>
<!-- RM dots -->
<g>
<circle cx="1478" cy="913" r="2.8"/><circle cx="1499" cy="913" r="2.4"/><circle cx="1606" cy="913" r="2.8"/><circle cx="1627" cy="913" r="2.4"/>
<circle cx="1457" cy="969" r="2.4"/><circle cx="1585" cy="969" r="2.4"/>
<circle cx="1443" cy="1011.4" r="2.4"/><circle cx="1499" cy="1011.4" r="2.4"/>
<circle cx="1429" cy="1054.3" r="3"/><circle cx="1478" cy="1054.3" r="3"/><circle cx="1514" cy="1054.3" r="3"/><circle cx="1606" cy="1054.3" r="3"/><circle cx="1642" cy="1054.3" r="3"/>
<circle cx="1599" cy="1111" r="3"/><circle cx="1642" cy="1111" r="3"/><circle cx="1443" cy="1196.8" r="2.4"/>
<circle cx="1642" cy="1139" r="4.5"/><circle cx="1642" cy="1139" r="1.8" fill="#777"/>
</g>
<g class="pin">
<circle cx="1457" cy="870" r="7"/><circle cx="1478" cy="870" r="7"/><circle cx="1499" cy="870" r="7"/>
<circle cx="1585" cy="870" r="7"/><circle cx="1606" cy="870" r="7"/><circle cx="1627" cy="870" r="7"/>
</g>
<g class="f8 c">
<text x="1457" y="873">1</text><text x="1478" y="873">2</text><text x="1499" y="873">3</text>
<text x="1585" y="873">1</text><text x="1606" y="873">2</text><text x="1627" y="873">3</text>
</g>

<!-- IC383 -->
<path class="m" d="M1492,1097H1556V1211H1534A10,10 0 0 0 1514,1211H1492Z"/>
<g fill="#fff" stroke="#000" stroke-width="1.3">
<polygon points="1505,1129 1523,1129 1514,1110"/><circle cx="1514" cy="1107.5" r="2.5"/>
<polygon points="1505,1159 1523,1159 1514,1140"/><circle cx="1514" cy="1137.5" r="2.5"/>
<polygon points="1505,1194 1523,1194 1514,1175"/><circle cx="1514" cy="1172.5" r="2.5"/>
<polygon points="1527,1131 1545,1131 1536,1112"/><circle cx="1536" cy="1109.5" r="2.5"/>
<polygon points="1527,1165 1545,1165 1536,1146"/><circle cx="1536" cy="1143.5" r="2.5"/>
<polygon points="1527,1198 1545,1198 1536,1179"/><circle cx="1536" cy="1176.5" r="2.5"/>
</g>
<g class="pin">
<ellipse cx="1492" cy="1111" rx="6.3" ry="7"/><ellipse cx="1492" cy="1125.3" rx="6.3" ry="7"/><ellipse cx="1492" cy="1139.6" rx="6.3" ry="7"/><ellipse cx="1492" cy="1153.9" rx="6.3" ry="7"/><ellipse cx="1492" cy="1168.2" rx="6.3" ry="7"/><ellipse cx="1492" cy="1182.5" rx="6.3" ry="7"/><ellipse cx="1492" cy="1196.8" rx="6.3" ry="7"/>
<ellipse cx="1556" cy="1111" rx="6.3" ry="7"/><ellipse cx="1556" cy="1125.3" rx="6.3" ry="7"/><ellipse cx="1556" cy="1139.6" rx="6.3" ry="7"/><ellipse cx="1556" cy="1153.9" rx="6.3" ry="7"/><ellipse cx="1556" cy="1168.2" rx="6.3" ry="7"/><ellipse cx="1556" cy="1182.5" rx="6.3" ry="7"/><ellipse cx="1556" cy="1196.8" rx="6.3" ry="7"/>
</g>
<g class="f7 c">
<text transform="translate(1492,1111) rotate(90)" y="2.5">8</text><text transform="translate(1492,1125.3) rotate(90)" y="2.5">9</text><text transform="translate(1492,1139.6) rotate(90)" y="2.5">10</text><text transform="translate(1492,1153.9) rotate(90)" y="2.5">11</text><text transform="translate(1492,1168.2) rotate(90)" y="2.5">12</text><text transform="translate(1492,1182.5) rotate(90)" y="2.5">13</text><text transform="translate(1492,1196.8) rotate(90)" y="2.5">14</text>
<text transform="translate(1556,1111) rotate(90)" y="2.5">7</text><text transform="translate(1556,1125.3) rotate(90)" y="2.5">6</text><text transform="translate(1556,1139.6) rotate(90)" y="2.5">5</text><text transform="translate(1556,1153.9) rotate(90)" y="2.5">4</text><text transform="translate(1556,1168.2) rotate(90)" y="2.5">3</text><text transform="translate(1556,1182.5) rotate(90)" y="2.5">2</text><text transform="translate(1556,1196.8) rotate(90)" y="2.5">1</text>
</g>
<rect x="1620" y="1178" width="61" height="22" class="m"/>
<text x="1650.5" y="1196" font-size="17" font-weight="bold" class="c" textLength="53" lengthAdjust="spacingAndGlyphs">IC383</text>

<!-- CN381 -->
<text x="1260" y="983" class="f8">CN381 7P</text>
<rect x="1230" y="990" width="114" height="100" class="k"/>
<line x1="1329" y1="990" x2="1329" y2="1090" class="m"/>
<path class="w" d="M1230,1004.3H1344M1230,1018.6H1344M1230,1032.8H1344M1230,1047.1H1344M1230,1061.4H1344M1230,1075.7H1344"/>
<g class="f10 ls">
<text x="1323" y="1001" class="e">SIRCS TH</text><text x="1323" y="1015" class="e">SIRCS VCC</text><text x="1323" y="1029" class="e">SIRCS 1</text><text x="1323" y="1044" class="e">SIRCS 2</text><text x="1323" y="1058" class="e">GNĐ</text><text x="1323" y="1072" class="e">SIRCS LEĐ</text><text x="1323" y="1087" class="e">5V</text>
</g>
<g class="f10 c">
<text x="1337" y="1001">7</text><text x="1337" y="1015">6</text><text x="1337" y="1029">5</text><text x="1337" y="1044">4</text><text x="1337" y="1058">3</text><text x="1337" y="1072">2</text><text x="1337" y="1087">1</text>
</g>
<text x="1155" y="1022" class="f9" textLength="64" lengthAdjust="spacingAndGlyphs">TO IĐ-11A (A)</text>
<text x="1167" y="1037" class="f9">CN106</text>
<text x="1143" y="1062" font-size="20" textLength="82" lengthAdjust="spacingAndGlyphs">(Page 4-28)</text>

<!-- RM labels -->
<g class="f8">
<text x="1507" y="895">C382</text><text x="1513" y="901">33</text><text x="1508" y="908">6.3V</text><text x="1510" y="915">:TA</text><text x="1506" y="927">(B)</text><text x="1507" y="940">R384</text><text x="1512" y="946">47</text>
<text x="1635" y="895">C381</text><text x="1641" y="901">33</text><text x="1636" y="908">6.3V</text><text x="1638" y="915">:TA</text><text x="1637" y="927">(B)</text><text x="1635" y="940">R383</text><text x="1640" y="946">47</text>
<text x="1553" y="995" class="c">D384</text><text x="1553" y="1002" class="c">MA3075WA- (TX)</text>
<text x="1680" y="995" class="c">D383</text><text x="1680" y="1002" class="c">MA3075WA- (TX)</text>
<text x="1760" y="1037">R382</text><text x="1763" y="1043">1k</text>
<text x="1778" y="1073">D382</text><text x="1775" y="1079">GL3EG8</text>
<text x="1650" y="1142">CL381</text>
<text x="1402" y="1146">R386</text><text x="1410" y="1152">0</text>
<text x="1414" y="1222">C383</text><text x="1414" y="1228">0.01</text><text x="1421" y="1234">F</text>
<text x="1525" y="1237" class="c">IC383</text><text x="1525" y="1244" class="c">TC74HC04AF (EL)</text>
</g>
<text x="1770" y="1097" class="f9">POWER</text>

<!-- Footer -->
<text x="1837" y="1323" font-size="22" font-weight="bold" class="e" textLength="262" lengthAdjust="spacingAndGlyphs">LB-47A (A), RM-77A (A),</text>
<text x="1837" y="1349" font-size="22" font-weight="bold" class="e" textLength="217" lengthAdjust="spacingAndGlyphs">RS-67A (A) BOARD</text>
<text x="529" y="1370" font-size="18" class="c">4-9</text>
<text x="1392" y="1370" font-size="18" textLength="48" lengthAdjust="spacingAndGlyphs">4-10</text>
</svg>
</body></html>
